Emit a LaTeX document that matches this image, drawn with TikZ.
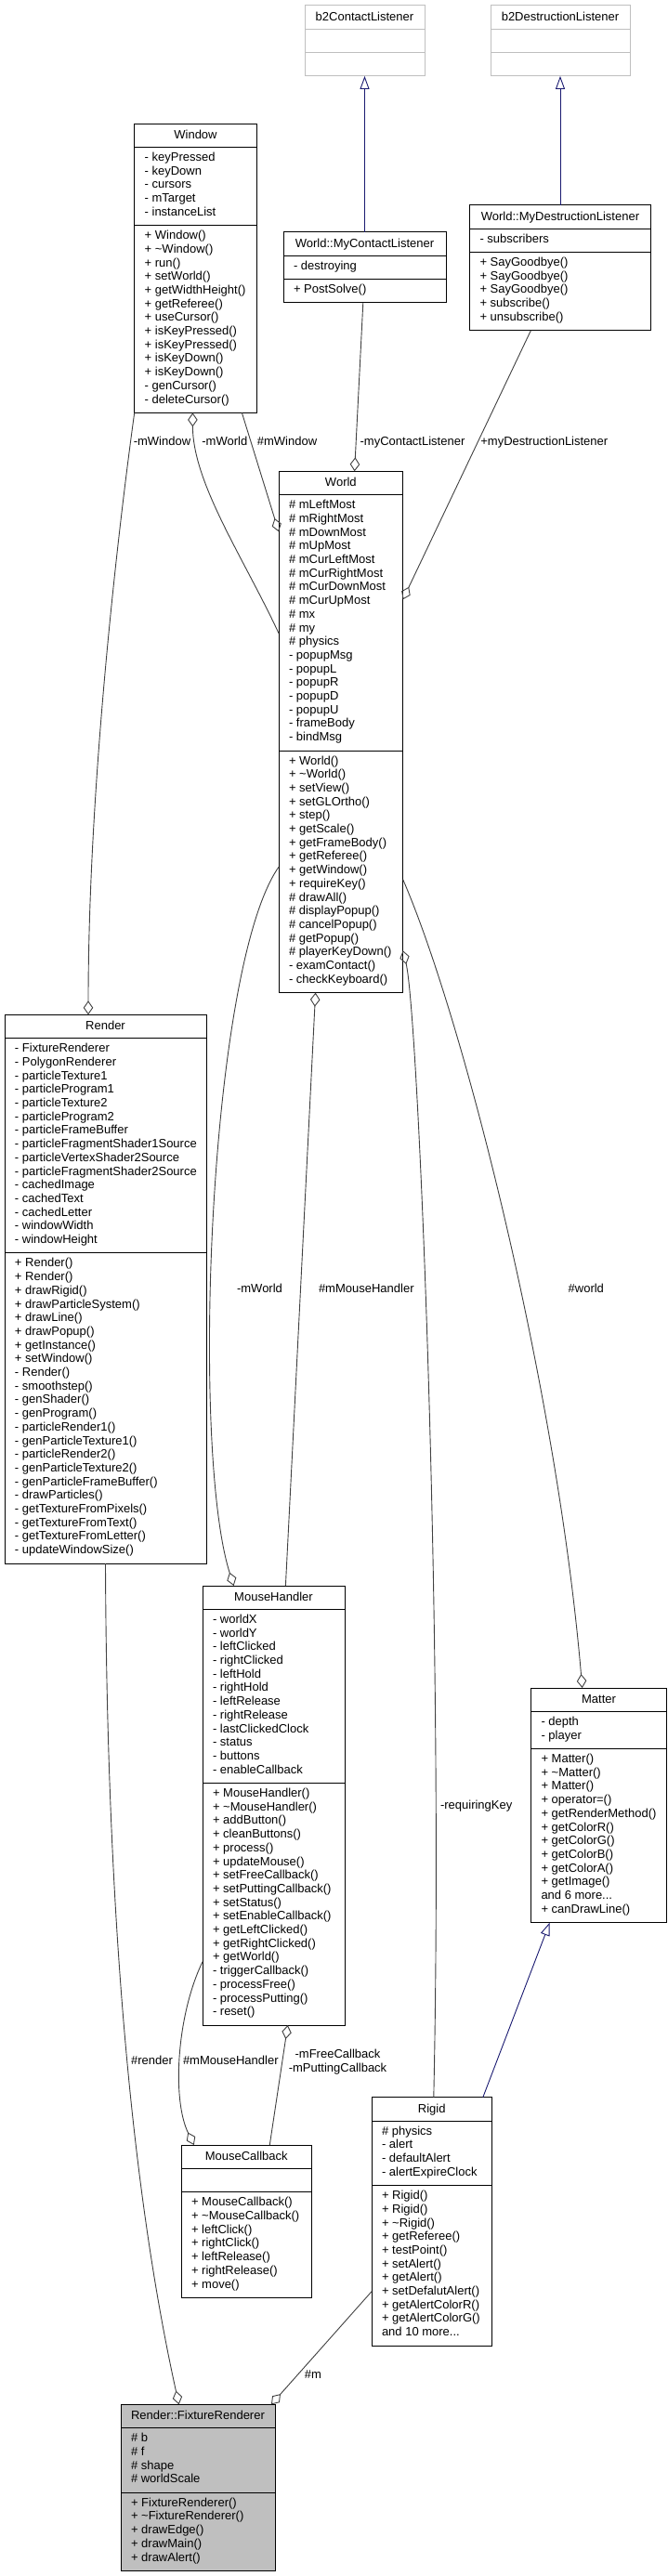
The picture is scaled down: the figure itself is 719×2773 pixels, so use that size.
\documentclass[tikz,border=0pt]{standalone}
\usepackage{fontspec}
\setmainfont{Liberation Sans}
\usetikzlibrary{arrows.meta,calc}
\definecolor{grey25}{HTML}{404040}
\definecolor{grey75}{HTML}{BFBFBF}
\definecolor{midnight}{HTML}{191970}
\newcommand\ddd{...}
\newcommand\tld{\textasciitilde}
% #1 name, #2 left, #3 top, #4 width, #5 title, #6 nA, #7 attrs, #8 nM, #9 meths
\newcommand\umlclass[9]{%
  \pgfmathsetmacro\hA{#6*14.7+10.7}%
  \pgfmathsetmacro\hM{#8*14.7+10.7}%
  \pgfmathsetmacro\hT{25.4+\hA+\hM}%
  \node[curbox, anchor=north west, minimum width=#4pt, minimum height=\hT pt] (#1) at (#2,#3) {};
  \node[txt, anchor=base] (#1-title) at ({#2+#4/2},{#3+16.5}) {#5};
  \draw[cursep] ({#2},{#3+25.4}) -- ++(#4,0);
  \draw[cursep] ({#2},{#3+25.4+\hA}) -- ++(#4,0);
  \foreach \l [count=\i] in {#7} {\node[txt, anchor=base west] (#1-a\i) at ({#2+11},{#3+25.4+15+(\i-1)*14.7}) {\l};}
  \foreach \l [count=\i] in {#9} {\node[txt, anchor=base west] (#1-m\i) at ({#2+11},{#3+25.4+\hA+15+(\i-1)*14.7}) {\l};}
}
\begin{document}
\begin{tikzpicture}[x=1pt,y=-1pt,
  txt/.style={font=\fontsize{13}{14.7}\selectfont, inner sep=0pt, outer sep=0pt, text=black},
  lbl/.style={txt, anchor=base},
  box/.style={draw=black, fill=white, line width=1pt, inner sep=0pt, outer sep=0pt},
  curbox/.style={box},
  cursep/.style={draw=black, line width=1pt},
  edge/.style={draw=grey25, line width=0.9pt},
  agg/.style={edge, -{Diamond[open, length=15pt, width=10.5pt]}},
  inh/.style={draw=midnight, line width=0.9pt, -{Triangle[open, length=14pt, width=10pt]}}]
\useasboundingbox (0,0) rectangle (719,2773);

\begin{scope}[curbox/.style={box, draw=grey75}, cursep/.style={draw=grey75, line width=1pt}]
\umlclass{b2cl}{328}{5.7}{129}{b2ContactListener}{1}{}{1}{}
\umlclass{b2dl}{528}{5.7}{150}{b2DestructionListener}{1}{}{1}{}
\end{scope}

\umlclass{window}{144.7}{133}{131.6}{Window}{5}{- keyPressed, - keyDown, - cursors, - mTarget, - instanceList}{13}{+ Window(), + \tld Window(), + run(), + setWorld(), + getWidthHeight(), + getReferee(), + useCursor(), + isKeyPressed(), + isKeyPressed(), + isKeyDown(), + isKeyDown(), - genCursor(), - deleteCursor()}

\umlclass{mycl}{305}{249.7}{175}{World::MyContactListener}{1}{- destroying}{1}{+ PostSolve()}

\umlclass{mydl}{505.5}{220.7}{195}{World::MyDestructionListener}{1}{- subscribers}{5}{+ SayGoodbye(), + SayGoodbye(), + SayGoodbye(), + subscribe(), + unsubscribe()}

\umlclass{world}{300}{507.3}{133.7}{World}{18}{\# mLeftMost, \# mRightMost, \# mDownMost, \# mUpMost, \# mCurLeftMost, \# mCurRightMost, \# mCurDownMost, \# mCurUpMost, \# mx, \# my, \# physics, - popupMsg, - popupL, - popupR, - popupD, - popupU, - frameBody, - bindMsg}{17}{+ World(), + \tld World(), + setView(), + setGLOrtho(), + step(), + getScale(), + getFrameBody(), + getReferee(), + getWindow(), + requireKey(), \# drawAll(), \# displayPopup(), \# cancelPopup(), \# getPopup(), \# playerKeyDown(), - examContact(), - checkKeyboard()}

\umlclass{render}{5}{1092.3}{217}{Render}{15}{- FixtureRenderer, - PolygonRenderer, - particleTexture1, - particleProgram1, - particleTexture2, - particleProgram2, - particleFrameBuffer, - particleFragmentShader1Source, - particleVertexShader2Source, - particleFragmentShader2Source, - cachedImage, - cachedText, - cachedLetter, - windowWidth, - windowHeight}{22}{+ Render(), + Render(), + drawRigid(), + drawParticleSystem(), + drawLine(), + drawPopup(), + getInstance(), + setWindow(), - Render(), - smoothstep(), - genShader(), - genProgram(), - particleRender1(), - genParticleTexture1(), - particleRender2(), - genParticleTexture2(), - genParticleFrameBuffer(), - drawParticles(), - getTextureFromPixels(), - getTextureFromText(), - getTextureFromLetter(), - updateWindowSize()}

\umlclass{mh}{218}{1707}{153}{MouseHandler}{12}{- worldX, - worldY, - leftClicked, - rightClicked, - leftHold, - rightHold, - leftRelease, - rightRelease, - lastClickedClock, - status, - buttons, - enableCallback}{17}{+ MouseHandler(), + \tld MouseHandler(), + addButton(), + cleanButtons(), + process(), + updateMouse(), + setFreeCallback(), + setPuttingCallback(), + setStatus(), + setEnableCallback(), + getLeftClicked(), + getRightClicked(), + getWorld(), - triggerCallback(), - processFree(), - processPutting(), - reset()}

\umlclass{matter}{571.5}{1817}{146}{Matter}{2}{- depth, - player}{12}{+ Matter(), + \tld Matter(), + Matter(), + operator=(), + getRenderMethod(), + getColorR(), + getColorG(), + getColorB(), + getColorA(), + getImage(), and 6 more\ddd, + canDrawLine()}

\umlclass{mcb}{195}{2309}{140.5}{MouseCallback}{1}{}{7}{+ MouseCallback(), + \tld MouseCallback(), + leftClick(), + rightClick(), + leftRelease(), + rightRelease(), + move()}

\umlclass{rigid}{400}{2257.7}{129.5}{Rigid}{4}{\# physics, - alert, - defaultAlert, - alertExpireClock}{11}{+ Rigid(), + Rigid(), + \tld Rigid(), + getReferee(), + testPoint(), + setAlert(), + getAlert(), + setDefalutAlert(), + getAlertColorR(), + getAlertColorG(), and 10 more\ddd}

\begin{scope}[curbox/.style={box, fill=grey75}]
\umlclass{fr}{130}{2588.3}{166}{Render::FixtureRenderer}{4}{\# b, \# f, \# shape, \# worldScale}{5}{+ FixtureRenderer(), + \tld FixtureRenderer(), + drawEdge(), + drawMain(), + drawAlert()}
\end{scope}

% inheritance
\draw[inh] (mycl.north) -- (b2cl.south);
\draw[inh] (mydl.north) -- (b2dl.south);
\draw[inh] ($(rigid.north west)+(119.8,0)$) -- ($(matter.south west)+(20.2,0)$);

% aggregation
\draw[agg] (window.south west) .. controls (126,580) and (95,850) .. ($(render.north west)+(90,0)$);
\draw[agg] ($(world.north west)+(0,174.4)$) .. controls (262,600) and (207.4,520) .. ($(window.south west)+(62.7,0)$);
\draw[agg] ($(window.south west)+(115.7,0)$) -- ($(world.north west)+(0,65)$);
\draw[agg] ($(mycl.south west)+(85.8,0)$) -- ($(world.north west)+(81.6,0)$);
\draw[agg] ($(mydl.south west)+(65.9,0)$) -- ($(world.north east)+(0,138)$);
\draw[agg] ($(world.north west)+(0,426)$) .. controls (225,1040) and (205,1560) .. ($(mh.north west)+(33.6,0)$);
\draw[agg] ($(mh.north west)+(89.4,0)$) -- ($(world.south west)+(39.6,0)$);
\draw[agg] ($(rigid.north west)+(66.8,0)$) .. controls (478,1750) and (450,1090) .. ($(world.north east)+(0,516)$);
\draw[agg] ($(world.north east)+(0,439.4)$) .. controls (500,1100) and (600,1500) .. ($(matter.north west)+(55.2,0)$);
\draw[agg] (render.south) .. controls (115,2050) and (140,2350) .. ($(fr.north west)+(62.6,0)$);
\draw[agg] ($(mh.north west)+(0,404.7)$) .. controls (190,2170) and (185,2260) .. ($(mcb.north west)+(13.8,0)$);
\draw[agg] ($(mcb.north west)+(95.3,0)$) -- ($(mh.south west)+(91.7,0)$);
\draw[agg] ($(rigid.north west)+(0,209)$) -- ($(fr.north east)+(-4,0)$);

% labels
\node[lbl] (l1) at (174.5,479) {-mWindow};
\node[lbl] (l2) at (241.8,479) {-mWorld};
\node[lbl] (l3) at (309,479) {\#mWindow};
\node[lbl] (l4) at (444,479) {-myContactListener};
\node[lbl] (l5) at (585.8,479) {+myDestructionListener};
\node[lbl] (l6) at (279.5,1391.3) {-mWorld};
\node[lbl] (l7) at (394.3,1391.3) {\#mMouseHandler};
\node[lbl] (l8) at (630.8,1391.3) {\#world};
\node[lbl] (l9) at (512.7,1947.3) {-requiringKey};
\node[lbl] (l10) at (163.5,2222.3) {\#render};
\node[lbl] (l11) at (248.3,2222.3) {\#mMouseHandler};
\node[txt, align=center] (l12) at (363.5,2219.3) {-mFreeCallback\\-mPuttingCallback};
\node[lbl] (l13) at (337,2560.6) {\#m};
\end{tikzpicture}
\end{document}
